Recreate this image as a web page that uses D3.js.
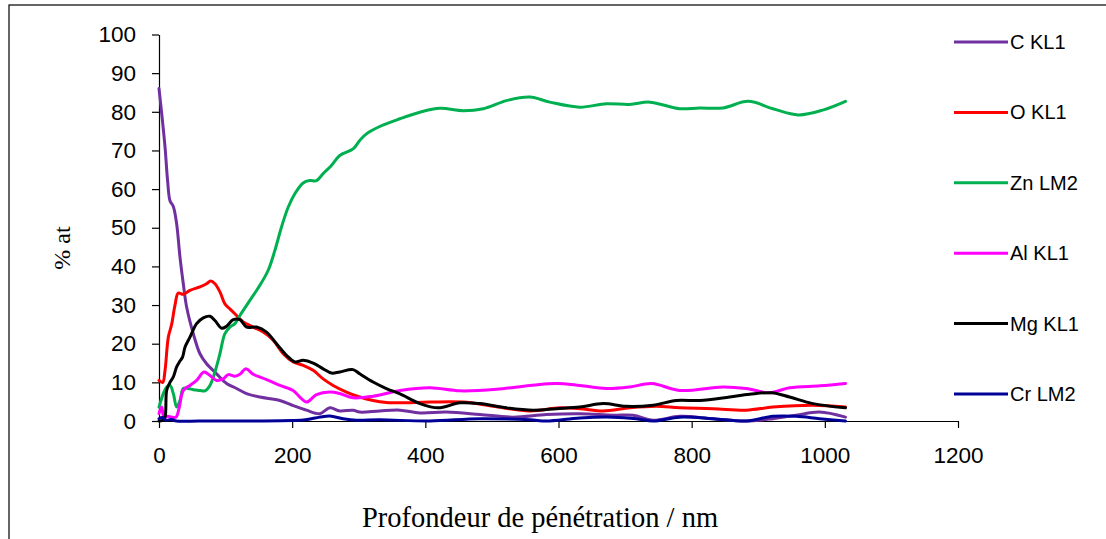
<!DOCTYPE html>
<html>
<head>
<meta charset="utf-8">
<script src="https://cdn.jsdelivr.net/npm/d3@7"></script>
<style>
  body { margin: 0; background: #fff; }
  svg { display: block; }
</style>
</head>
<body>
<div id="chart"></div>
<script>
// depth (nm), % at
const cKL1 = [[0,86],[5,78],[9,71],[13,62],[16.5,57],[21.5,55.5],[26.5,51],[31.5,42.4],[36.5,35.5],[41.5,29.5],[51.5,22.6],[61.5,17.4],[71.5,14.8],[86.5,12.2],[101.5,9.7],[116.5,8.4],[131.5,7.1],[151.5,6.2],[181.5,5.3],[201.5,4],[221.5,2.8],[241.5,1.9],[256.5,3.4],[271.5,2.6],[291.5,2.8],[301.5,2.3],[331.5,2.6],[362,2.8],[392,2.1],[432,2.3],[482,1.7],[532,1],[582,1.7],[632,1.9],[682,1.5],[712,1.5],[742,0.2],[782,1.2],[832,0.6],[882,0],[922,0.6],[957,1.5],[992,2.3],[1031,1]];
const oKL1 = [[0,10.5],[5.5,10],[9,13],[14,21.7],[19,25],[24,30],[29,33.1],[36.5,32.8],[46.5,33.8],[61.5,34.7],[71.5,35.5],[77.5,36.2],[84,35.5],[91.5,33.4],[99,30.3],[106.5,29],[116.5,27.3],[126.5,25.6],[141.5,24.3],[156.5,23],[171.5,20.9],[186.5,17.4],[201.5,15.3],[216.5,14.4],[231.5,13.1],[246.5,10.9],[261.5,9.2],[281.5,7.5],[301.5,6.2],[321.5,5.3],[341.5,4.8],[362,4.7],[407,4.9],[457,4.9],[502,3.8],[557,2.6],[602,3.4],[632,3.2],[667,2.6],[707,3.4],[747,3.8],[782,3.4],[832,3.2],[882,2.8],[922,3.6],[982,4.1],[1031,3.6]];
const znLM2 = [[0,3.6],[6.5,7.1],[11.5,8.8],[16.5,9.2],[21.5,7.1],[26.5,3.6],[31.5,5.3],[36.5,8.4],[44,8.4],[51.5,8.1],[61.5,7.9],[69,7.8],[76.5,9.2],[84,12.7],[91.5,17.4],[99,22.6],[106.5,24.3],[114,25.2],[121.5,27.3],[136.5,31.2],[151.5,35.1],[164,39],[174,44.1],[184,50.2],[194,55.3],[204,58.8],[216.5,61.6],[226.5,62.2],[236.5,62.2],[246.5,64],[259,66.1],[271.5,68.7],[291.5,70.4],[301.5,72.6],[311.5,74.3],[331.5,76.2],[361.8,78.2],[391.8,79.9],[421.9,80.9],[457,80.3],[487,80.8],[522,82.9],[557,83.8],[587,82.5],[632,81.2],[672,82.1],[707,81.9],[737,82.5],[782,80.8],[812,81],[847,81],[885,82.7],[922,80.8],[960,79.2],[998,80.5],[1031,82.7]];
const alKL1 = [[0,1.9],[4,3.6],[7.5,1],[13,1.2],[19,1],[25.5,1],[30.5,3.6],[36.5,7.9],[46.5,9.2],[56.5,10.5],[67.5,12.7],[76.5,11.8],[86.5,10.5],[96.5,10.9],[104,12],[114,11.6],[121.5,12.1],[130.5,13.5],[141.5,12.1],[161.5,10.7],[181.5,9.2],[201.5,7.9],[211.5,6.2],[221.5,4.9],[236.5,6.8],[256.5,7.5],[271.5,7.1],[291.5,6],[321.5,6.4],[362,7.9],[407,8.6],[452,7.8],[507,8.2],[557,9.2],[597,9.7],[632,9.2],[672,8.4],[707,8.8],[740,9.7],[782,7.9],[847,8.8],[882,8.4],[917,7.3],[947,8.6],[993,9.1],[1031,9.7]];
const mgKL1 = [[0,0],[5.5,0.2],[9,1],[11.5,7.9],[16.5,10],[21.5,11.4],[26.5,14],[31.5,15.5],[35.5,16.6],[39,19.1],[46.5,21.7],[56.5,25.2],[66.5,26.7],[76.5,27.1],[84,26],[94,24],[101.5,24.5],[111.5,26.2],[121.5,26.2],[131.5,24.3],[146.5,24.3],[161.5,23],[176.5,20],[191.5,17],[204,15.3],[216.5,15.7],[231.5,15],[246.5,13.5],[259,12.4],[271.5,12.7],[291.5,13.3],[301.5,12.2],[321.5,10.1],[341.5,8.4],[362,7],[392,4.5],[419,3.4],[452,4.7],[482,4.5],[522,3.4],[562,2.8],[597,3.2],[632,3.6],[667,4.5],[702,3.8],[742,4.1],[777,5.3],[812,5.3],[857,6.2],[887,6.9],[920,7.3],[947,6.2],[982,4.5],[1031,3.4]];
const crLM2 = [[0,0.6],[5,0.9],[10,0.2],[19,0.4],[26,0],[60,0],[100,0],[150,0],[200,0.1],[220,0.3],[241.5,1],[256.5,1.3],[276.5,0.6],[296.5,0.2],[331.8,0.3],[407,0],[482,0.6],[557,0.3],[582,0],[632,0.8],[682,1],[717,0.6],[742,0],[782,1],[832,0.6],[882,0],[922,1.2],[957,1.2],[992,0.6],[1031,0]];

const seriesNames = ["C KL1", "O KL1", "Zn LM2", "Al KL1", "Mg KL1", "Cr LM2"];
const seriesData = [cKL1, oKL1, znLM2, alKL1, mgKL1, crLM2];
const seriesColors = ["#7030A0", "#FF0000", "#00B050", "#FF00FF", "#000000", "#000099"];
const xTicks = [0, 200, 400, 600, 800, 1000, 1200];
const yTicks = [0, 10, 20, 30, 40, 50, 60, 70, 80, 90, 100];

const width = 1106, height = 539;
const svg = d3.select("#chart").append("svg")
  .attr("width", width)
  .attr("height", height);

// outer chart frame (only top/left visible)
svg.append("rect")
  .attr("x", 9).attr("y", 5)
  .attr("width", 1200).attr("height", 600)
  .attr("fill", "none").attr("stroke", "#000").attr("stroke-width", 1.2);

const x = d3.scaleLinear().domain([0, 1200]).range([159, 958]);
const y = d3.scaleLinear().domain([0, 100]).range([421, 34.5]);

const tickFont = "'Liberation Sans', Arial, sans-serif";

const xAxis = svg.append("g")
  .attr("transform", `translate(0,${y(0)})`)
  .call(d3.axisBottom(x).tickValues(xTicks).tickFormat(d3.format("d"))
    .tickSize(7).tickSizeOuter(0).tickPadding(16));
const yAxis = svg.append("g")
  .attr("transform", `translate(${x(0)},0)`)
  .call(d3.axisLeft(y).tickValues(yTicks).tickFormat(d3.format("d"))
    .tickSize(7).tickSizeOuter(0).tickPadding(16));

[xAxis, yAxis].forEach(g => {
  g.select(".domain").attr("stroke", "#000").attr("stroke-width", 1.2);
  g.selectAll(".tick line").attr("stroke", "#000").attr("stroke-width", 1.2);
  g.selectAll(".tick text")
    .attr("fill", "#000")
    .style("font-family", tickFont)
    .style("font-size", "22.5px");
});
xAxis.selectAll(".tick text").attr("dy", "0.85em");

// series lines
const line = d3.line()
  .x(d => x(d[0]))
  .y(d => y(d[1]))
  .curve(d3.curveCatmullRom.alpha(0.5));

svg.append("g").selectAll("path")
  .data(seriesData)
  .join("path")
  .attr("d", line)
  .attr("fill", "none")
  .attr("stroke", (d, i) => seriesColors[i])
  .attr("stroke-width", 3)
  .attr("stroke-linejoin", "round")
  .attr("stroke-linecap", "round");

// legend
const legend = svg.append("g").selectAll("g")
  .data(seriesNames)
  .join("g")
  .attr("transform", (d, i) => `translate(954,${42 + i * 70.4})`);
legend.append("line")
  .attr("x1", 0).attr("x2", 54)
  .attr("stroke", (d, i) => seriesColors[i])
  .attr("stroke-width", 3);
legend.append("text")
  .attr("x", 56).attr("dy", "0.35em")
  .style("font-family", tickFont)
  .style("font-size", "20px")
  .text(d => d);

// axis titles
svg.append("text")
  .attr("transform", "translate(70,248) rotate(-90)")
  .attr("text-anchor", "middle")
  .style("font-family", "'Liberation Serif', 'Times New Roman', serif")
  .style("font-size", "24px")
  .text("% at");

svg.append("text")
  .attr("x", 540).attr("y", 527)
  .attr("text-anchor", "middle")
  .style("font-family", "'Liberation Serif', 'Times New Roman', serif")
  .style("font-size", "28.5px")
  .text("Profondeur de pénétration / nm");
</script>
</body>
</html>
